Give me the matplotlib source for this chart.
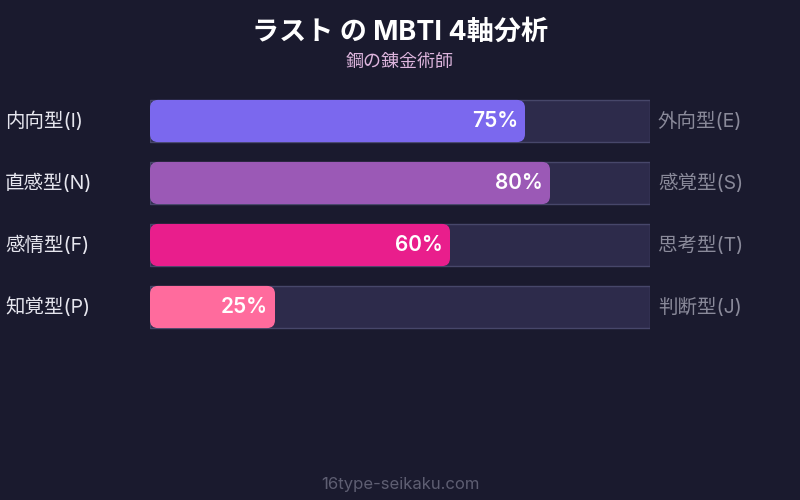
import matplotlib
matplotlib.use("Agg")
import matplotlib.pyplot as plt
from matplotlib.patches import FancyBboxPatch, Rectangle

plt.rcParams['font.family'] = ['Inter', 'Noto Sans CJK JP', 'DejaVu Sans']

# data
left_labels = ["内向型(I)", "直感型(N)", "感情型(F)", "知覚型(P)"]
right_labels = ["外向型(E)", "感覚型(S)", "思考型(T)", "判断型(J)"]
values = [75, 80, 60, 25]
colors = ["#7b68ee", "#9b59b6", "#e91e8c", "#ff6b9d"]

bg = "#1a1a2e"
W, H = 800, 500

fig = plt.figure(figsize=(8, 5), dpi=100, facecolor=bg)
# axes over track area: x 150..650 px, y 90..338 px
ax = fig.add_axes([150 / W, 1 - 338 / H, 500 / W, 248 / H])
ax.set_facecolor(bg)
ax.set_xlim(0, 100)
ax.set_ylim(3.5, -0.5)
ax.axis("off")

bar_h = 0.68
aspect = (1 / 62) / (1 / 5)
for i, (v, c) in enumerate(zip(values, colors)):
    ax.add_patch(Rectangle((0, i - bar_h / 2), 100, bar_h, facecolor="#2d2b4b",
                           edgecolor="#47476a", linewidth=1))
    ax.add_patch(FancyBboxPatch((0, i - bar_h / 2), v, bar_h,
                                boxstyle="round,pad=0,rounding_size=1.6",
                                mutation_aspect=aspect, facecolor=c, edgecolor="none"))
    ax.text(v - 1.4, i, f"{v}%", ha="right", va="center", color="white",
            fontsize=15, fontweight="semibold")
    y = 1 - (121 + 62 * i) / H
    fig.text(5 / W, y, left_labels[i], ha="left", va="center", color="#e6e6ee", fontsize=14)
    fig.text(658 / W, y, right_labels[i], ha="left", va="center", color="#8a8a9a", fontsize=14)

fig.text(0.5, 1 - 33 / H, "ラスト の MBTI 4軸分析", ha="center", va="center",
         color="white", fontsize=19.5, fontweight="bold")
fig.text(0.5, 1 - 62 / H, "鋼の錬金術師", ha="center", va="center",
         color="#dcb4dc", fontsize=13)
fig.text(0.5, 1 - 484 / H, "16type-seikaku.com", ha="center", va="center",
         color="#5e5e72", fontsize=12)

fig.savefig("out.png", dpi=100, facecolor=bg)
